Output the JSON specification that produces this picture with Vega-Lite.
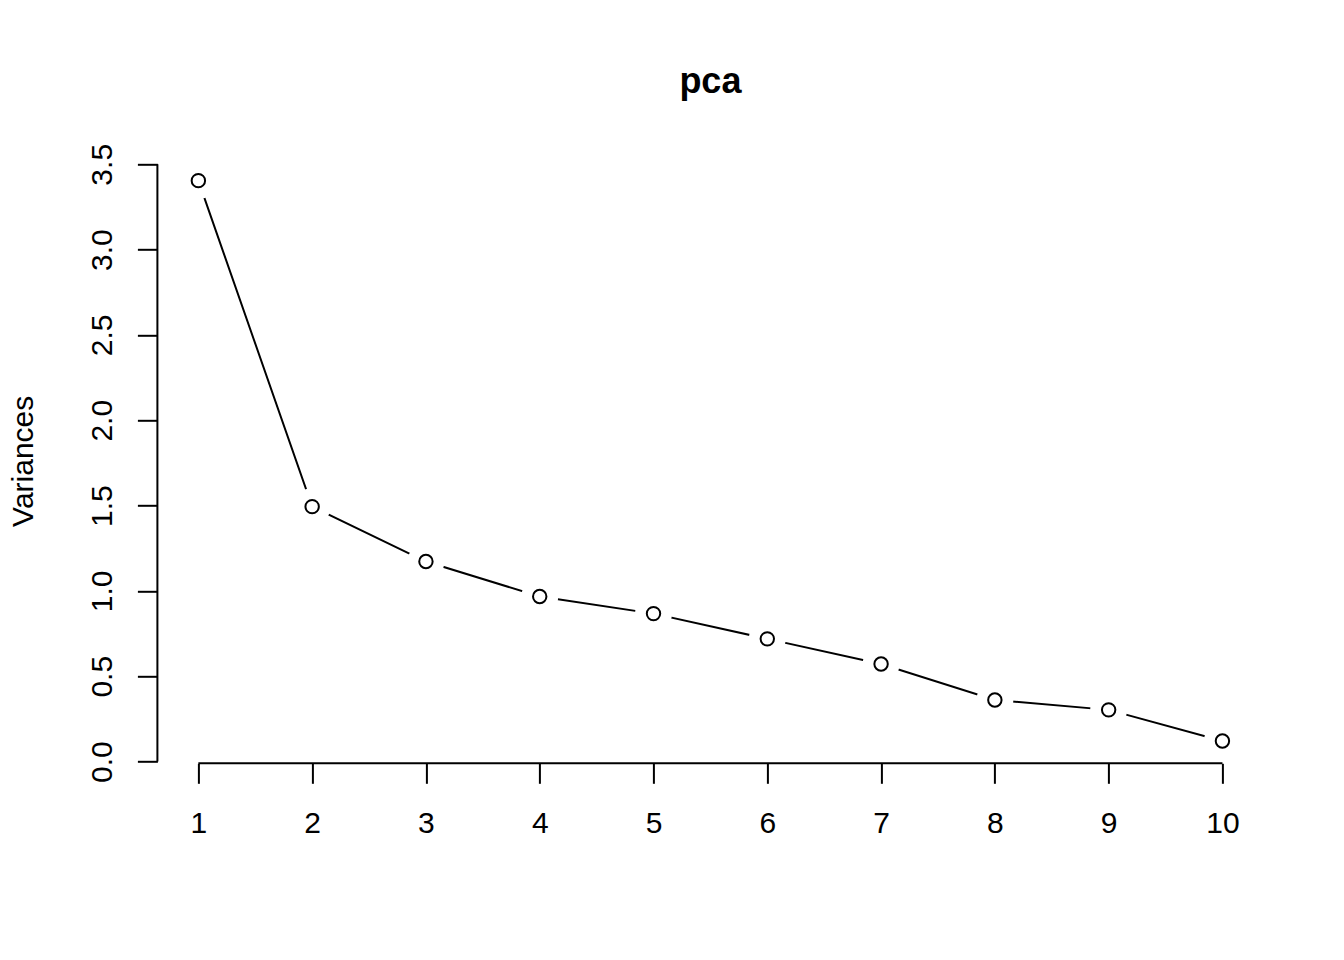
{
  "$schema": "https://vega.github.io/schema/vega-lite/v6.json",
  "width": 1106,
  "height": 605,
  "autosize": {"type": "none"},
  "padding": {"left": 157.4, "top": 158.3, "right": 80.6, "bottom": 196.7},
  "background": "white",
  "title": {
    "text": "pca",
    "fontSize": 36,
    "fontWeight": "bold",
    "font": "Liberation Sans",
    "anchor": "middle",
    "frame": "group",
    "baseline": "alphabetic",
    "offset": 14,
    "color": "black"
  },
  "config": {
    "view": {"stroke": null},
    "font": "Liberation Sans"
  },
  "data": {
    "values": [
      {"pc": 1, "variance": 3.404},
      {"pc": 2, "variance": 1.494},
      {"pc": 3, "variance": 1.172},
      {"pc": 4, "variance": 0.967},
      {"pc": 5, "variance": 0.867},
      {"pc": 6, "variance": 0.719},
      {"pc": 7, "variance": 0.572},
      {"pc": 8, "variance": 0.361},
      {"pc": 9, "variance": 0.303},
      {"pc": 10, "variance": 0.121}
    ]
  },
  "encoding": {
    "x": {
      "field": "pc",
      "type": "quantitative",
      "scale": {"domain": [0.64, 10.36], "nice": false, "zero": false},
      "axis": {
        "values": [1, 2, 3, 4, 5, 6, 7, 8, 9, 10],
        "domain": false,
        "grid": false,
        "title": null,
        "tickSize": 20,
        "tickWidth": 2,
        "tickColor": "black",
        "labelFontSize": 30,
        "labelFont": "Liberation Sans",
        "labelColor": "black",
        "labelBaseline": "alphabetic",
        "labelAlign": "center",
        "labelPadding": 49,
        "labelFlush": false,
        "labelOverlap": false,
        "format": "d"
      }
    },
    "y": {
      "field": "variance",
      "type": "quantitative",
      "scale": {"domain": [-0.0101, 3.535], "nice": false, "zero": false},
      "axis": {
        "values": [0, 0.5, 1, 1.5, 2, 2.5, 3, 3.5],
        "format": ".1f",
        "domain": false,
        "grid": false,
        "tickSize": 20,
        "tickWidth": 2,
        "tickColor": "black",
        "labelFontSize": 30,
        "labelFont": "Liberation Sans",
        "labelColor": "black",
        "labelAngle": 270,
        "labelAlign": "center",
        "labelBaseline": "alphabetic",
        "labelPadding": 26,
        "labelFlush": false,
        "labelOverlap": false,
        "title": "Variances",
        "titleFont": "Liberation Sans",
        "titleFontSize": 30,
        "titleFontWeight": "normal",
        "titleColor": "black",
        "titleAngle": 270,
        "titleAlign": "center",
        "titleBaseline": "alphabetic",
        "titleX": -124.5,
        "titleY": 302.5
      }
    }
  },
  "layer": [
    {"mark": {"type": "line", "color": "black", "strokeWidth": 2}},
    {"mark": {"type": "point", "shape": "circle", "filled": true, "color": "white", "size": 1369, "opacity": 1}},
    {"mark": {"type": "point", "shape": "circle", "filled": false, "color": "black", "strokeWidth": 2, "size": 180, "opacity": 1}},
    {
      "transform": [{"filter": "datum.pc == 1"}],
      "mark": {"type": "rule", "color": "black", "strokeWidth": 2},
      "encoding": {
        "x": {"datum": 1, "type": "quantitative"},
        "x2": {"datum": 10},
        "y": {"datum": -0.0101, "type": "quantitative"}
      }
    },
    {
      "transform": [{"filter": "datum.pc == 1"}],
      "mark": {"type": "rule", "color": "black", "strokeWidth": 2},
      "encoding": {
        "x": {"datum": 0.64, "type": "quantitative"},
        "y": {"datum": 0, "type": "quantitative"},
        "y2": {"datum": 3.5}
      }
    }
  ]
}
